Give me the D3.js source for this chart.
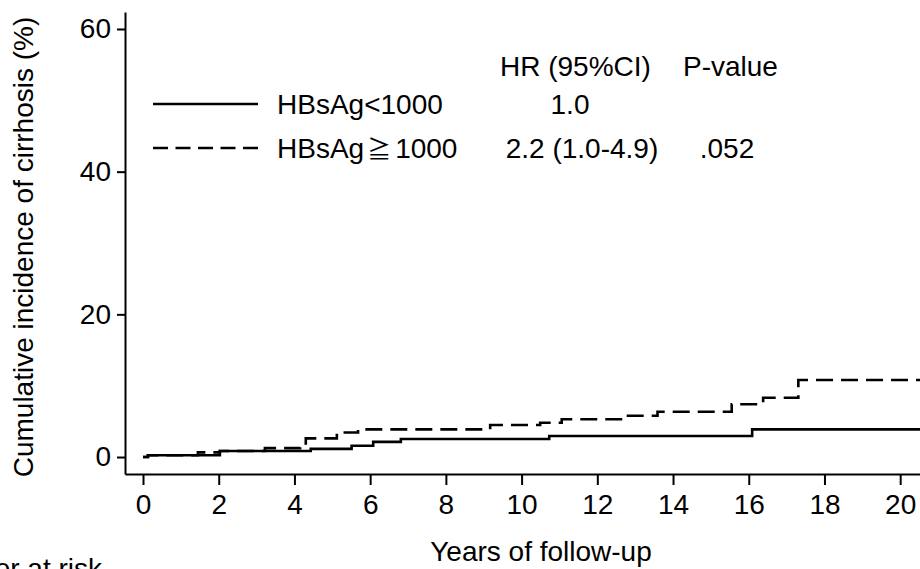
<!DOCTYPE html>
<html>
<head>
<meta charset="utf-8">
<script src="https://cdn.jsdelivr.net/npm/d3@7"></script>
<style>
  html, body { margin: 0; padding: 0; background: #fff; overflow: hidden; }
  svg { display: block; }
  text { font-family: Arial, "Liberation Sans", sans-serif; fill: #000; }
</style>
</head>
<body>
<svg id="chart" width="920" height="569"></svg>
<script>
// ---- data ----
const lowYears   = [0, 0.13, 2.03, 4.43, 5.51, 6.08, 6.81, 10.73, 16.09, 21.0];
const lowValues  = [0, 0.24, 0.84, 1.14, 1.58, 2.12, 2.52, 2.94, 3.88, 3.88];
const highYears  = [0, 0.13, 1.45, 2.03, 3.22, 4.15, 4.30, 5.12, 5.68, 9.17, 10.49, 11.06, 12.69, 13.59, 15.55, 16.38, 17.31, 21.0];
const highValues = [0, 0.24, 0.65, 0.84, 1.25, 1.90, 2.62, 3.43, 3.88, 4.49, 4.81, 5.29, 5.79, 6.35, 7.40, 8.31, 10.79, 10.79];
const xTicks = [0, 2, 4, 6, 8, 10, 12, 14, 16, 18, 20];
const yTicks = [0, 20, 40, 60];
const legendHeader = ["HR (95%CI)", "P-value"];
const legendLabels = ["HBsAg<1000", "HBsAg\u22671000"];
const legendHR = ["1.0", "2.2 (1.0-4.9)"];
const legendP = ["", ".052"];
const xTitle = "Years of follow-up";
const yTitle = "Cumulative incidence of cirrhosis (%)";
const riskTitle = "Number at risk";

// ---- scales ----
const svg = d3.select("#chart");
const x = d3.scaleLinear().domain([-0.4756, 21.58]).range([125, 960]);
const y = d3.scaleLinear().domain([-2.38, 62.38]).range([474, 12]);
const FS = 28;

// axes
const xAxis = svg.append("g").attr("transform", "translate(0,474)")
  .call(d3.axisBottom(x).tickValues(xTicks).tickSize(11).tickSizeOuter(0).tickPadding(9));
const yAxis = svg.append("g").attr("transform", "translate(125,0)")
  .call(d3.axisLeft(y).tickValues(yTicks).tickSize(8).tickSizeOuter(0).tickPadding(6));
[xAxis, yAxis].forEach(g => {
  g.selectAll("path.domain").attr("stroke", "#000").attr("stroke-width", 2);
  g.selectAll(".tick line").attr("stroke", "#000").attr("stroke-width", 2);
  g.selectAll(".tick text").attr("font-size", FS).attr("font-family", "Arial, 'Liberation Sans', sans-serif").attr("fill", "#000");
});

// curves
const line = d3.line().x(d => x(d[0])).y(d => y(d[1])).curve(d3.curveStepAfter);
svg.append("path")
  .datum(lowYears.map((t, i) => [t, lowValues[i]]))
  .attr("d", line).attr("fill", "none").attr("stroke", "#000").attr("stroke-width", 2.6);
svg.append("path")
  .datum(highYears.map((t, i) => [t, highValues[i]]))
  .attr("d", line).attr("fill", "none").attr("stroke", "#000").attr("stroke-width", 2.6)
  .attr("stroke-dasharray", "17,8");

// legend
const lg = svg.append("g");
lg.append("text").attr("x", 500).attr("y", 76).attr("font-size", FS).text(legendHeader[0]);
lg.append("text").attr("x", 683).attr("y", 76).attr("font-size", FS).text(legendHeader[1]);
const rows = [114, 158];
const lineY = [104, 148];
const hrX = [570, 582];
legendLabels.forEach((lab, i) => {
  const l = lg.append("line").attr("x1", 153).attr("x2", 258).attr("y1", lineY[i]).attr("y2", lineY[i])
    .attr("stroke", "#000").attr("stroke-width", 2.6);
  if (i === 1) l.attr("stroke-dasharray", "15,7.5");
  const t = lg.append("text").attr("x", 277).attr("y", rows[i]).attr("font-size", FS);
  if (lab.indexOf("\u2267") >= 0) {
    const parts = lab.split("\u2267");
    t.append("tspan").text(parts[0]);
    t.append("tspan").attr("dx", 3).attr("font-family", "'Noto Sans CJK JP', 'DejaVu Sans', sans-serif").attr("font-size", 24).text("\u2267");
    t.append("tspan").attr("dx", 4).text(parts[1]);
  } else {
    t.text(lab);
  }
  lg.append("text").attr("x", hrX[i]).attr("y", rows[i]).attr("font-size", FS).attr("text-anchor", "middle").text(legendHR[i]);
  if (legendP[i]) lg.append("text").attr("x", 727).attr("y", rows[i]).attr("font-size", FS).attr("text-anchor", "middle").text(legendP[i]);
});

// titles
svg.append("text").attr("x", 541).attr("y", 561).attr("text-anchor", "middle").attr("font-size", FS).text(xTitle);
svg.append("text").attr("transform", "translate(33,247) rotate(-90)").attr("text-anchor", "middle").attr("font-size", FS).text(yTitle);
svg.append("text").attr("x", 102).attr("y", 578).attr("text-anchor", "end").attr("font-size", FS).text(riskTitle);
</script>
</body>
</html>
